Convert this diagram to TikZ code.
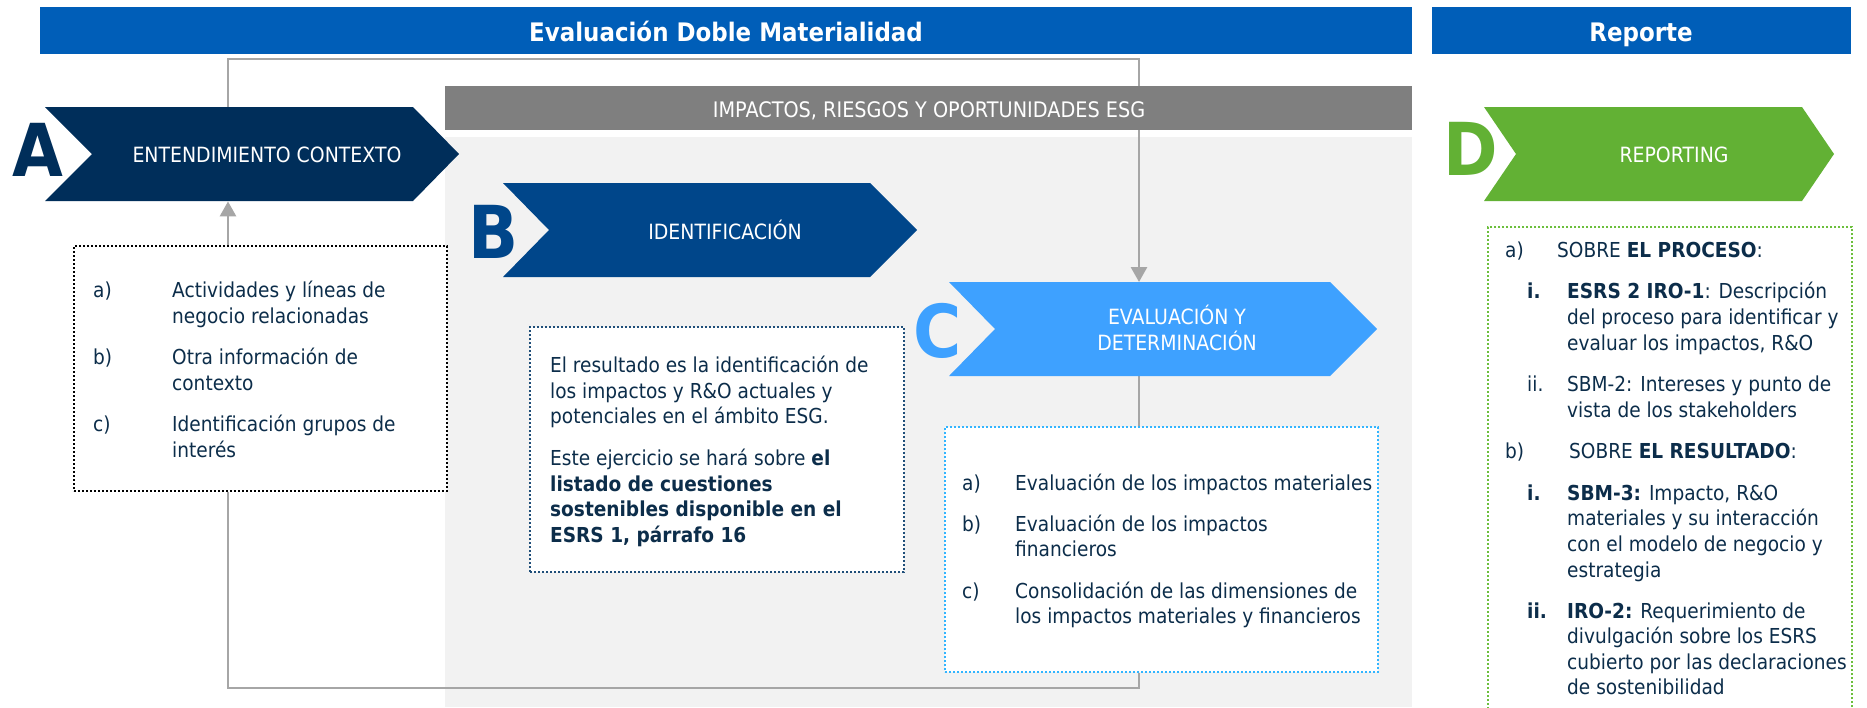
\documentclass[tikz,border=0pt]{standalone}
\usepackage{fontspec}
\setmainfont{DejaVu Sans}[FakeStretch=0.9]
\usetikzlibrary{arrows.meta,calc}
\definecolor{hdrblue}{HTML}{005EB8}
\definecolor{navyA}{HTML}{002E5A}
\definecolor{blueB}{HTML}{00468A}
\definecolor{blueC}{HTML}{3EA1FF}
\definecolor{greenD}{HTML}{62B134}
\definecolor{barGray}{HTML}{7F7F7F}
\definecolor{panelGray}{HTML}{F2F2F2}
\definecolor{loopGray}{HTML}{A6A6A6}
\definecolor{txtNavy}{HTML}{0C2D4A}
\definecolor{dotB}{HTML}{1F4E79}
\definecolor{dotC}{HTML}{33B5FF}
\definecolor{dotD}{HTML}{6CBF3C}
\newcommand\bl[4]{\node[body] (#1) at (#2,#3) {#4};}
\begin{document}
\begin{tikzpicture}[x=1pt,y=-1pt,
  body/.style={font=\fontsize{20.6}{26}\selectfont, text=txtNavy, inner sep=0pt, anchor=base west},
  chevtxt/.style={font=\fontsize{21}{26}\selectfont, text=white, inner sep=0pt, anchor=base},
  bigletter/.style={font=\fontsize{73}{73}\selectfont\bfseries, inner sep=0pt, anchor=center},
  hdrtxt/.style={font=\fontsize{25.5}{30}\selectfont\bfseries, text=white, inner sep=0pt, anchor=base},
  hdrbar/.style={fill=hdrblue, inner sep=0pt, anchor=north west, minimum height=47},
  dotbox/.style={line width=2.4pt, dash pattern=on 2.2pt off 1.8pt, fill=white, inner sep=0pt, anchor=north west},
  chevbox/.style={inner sep=0pt, anchor=north west, minimum height=94},
  loopline/.style={draw=loopGray, line width=2.8pt},
  arr/.style={-{Triangle[length=15pt,width=16pt]}}]
\clip (0,0) rectangle (1867,707);
\fill[white] (0,0) rectangle (1867,707);

% headers
\node[hdrbar, minimum width=1372] (hdr1) at (40,7) {};
\node[hdrtxt] (hdr1t) at (726,41) {Evaluación Doble Materialidad};
\node[hdrbar, minimum width=419] (hdr2) at (1432,7) {};
\node[hdrtxt] (hdr2t) at (1641,41.5) {Reporte};

% light panel
\fill[panelGray] (445,137) rectangle (1412,707);

% chevron bounding nodes
\node[chevbox, minimum width=414] (chA) at (45,107) {};
\node[chevbox, minimum width=414] (chB) at (503,183) {};
\node[chevbox, minimum width=428] (chC) at (949,282) {};
\node[chevbox, minimum width=350] (chD) at (1484,107) {};

% boxes
\node[dotbox, draw=black, minimum width=373, minimum height=245] (boxA) at (73,245) {};
\node[dotbox, draw=dotB, minimum width=374, minimum height=245] (boxB) at (529,326) {};
\node[dotbox, draw=dotC, minimum width=433, minimum height=245] (boxC) at (944,426) {};
\node[dotbox, draw=dotD, minimum width=364, minimum height=520] (boxD) at (1487,226) {};

% loop connectors
\coordinate (lx) at (228,0);
\coordinate (rx) at (1139,0);
\coordinate (ty) at (0,59);
\coordinate (by) at (0,688);
\draw[loopline, arr] (chA.north -| lx) -- (lx |- ty) -- (rx |- ty) -- (chC.north -| rx);
\draw[loopline] (boxA.south -| lx) -- (lx |- by) -- (rx |- by) -- (boxC.south -| rx);
\draw[loopline, arr] (boxA.north -| lx) -- (chA.south -| lx);
\draw[loopline] (chC.south -| rx) -- (boxC.north -| rx);

% gray bar
\node[fill=barGray, inner sep=0pt, anchor=north west, minimum width=967, minimum height=44] (bar) at (445,86) {};
\node[chevtxt, font=\fontsize{21.4}{26}\selectfont] (bart) at (929,117) {IMPACTOS, RIESGOS Y OPORTUNIDADES ESG};

% chevrons
\fill[navyA] (45,107) -- (413,107) -- (459,154) -- (413,201) -- (45,201) -- (92,154) -- cycle;
\fill[blueB] (503,183) -- (870,183) -- (917,230) -- (870,277) -- (503,277) -- (549,230) -- cycle;
\fill[blueC] (949,282) -- (1330,282) -- (1377,329) -- (1330,376) -- (949,376) -- (995,329) -- cycle;
\fill[greenD] (1484,107) -- (1802,107) -- (1834,154) -- (1802,201) -- (1484,201) -- (1516,154) -- cycle;

\node[chevtxt] (chAt) at (267,162.5) {ENTENDIMIENTO CONTEXTO};
\node[chevtxt] (chBt) at (725,239) {IDENTIFICACIÓN};
\node[chevtxt] (chCt1) at (1177,324) {EVALUACIÓN Y};
\node[chevtxt] (chCt2) at (1177,350) {DETERMINACIÓN};
\node[chevtxt] (chDt) at (1674,162) {REPORTING};

% big letters
\node[bigletter, text=navyA] (LA) at (37.5,149.5) {A};
\node[bigletter, text=blueB] (LB) at (493.5,231.5) {B};
\node[bigletter, text=blueC] (LC) at (938,330.5) {C};
\node[bigletter, text=greenD] (LD) at (1470.5,148.5) {D};

% box A text
\bl{Aa}{93}{297}{a)}
\bl{Aa1}{172}{297}{Actividades y líneas de}
\bl{Aa2}{172}{323}{negocio relacionadas}
\bl{Ab}{93}{364}{b)}
\bl{Ab1}{172}{364}{Otra información de}
\bl{Ab2}{172}{390}{contexto}
\bl{Ac}{93}{431}{c)}
\bl{Ac1}{172}{431}{Identificación grupos de}
\bl{Ac2}{172}{457}{interés}

% box B text
\bl{B1}{550}{372}{El resultado es la identificación de}
\bl{B2}{550}{398}{los impactos y R\&O actuales y}
\bl{B3}{550}{423}{potenciales en el ámbito ESG.}
\bl{B4}{550}{465}{Este ejercicio se hará sobre \textbf{el}}
\bl{B5}{550}{491}{\textbf{listado de cuestiones}}
\bl{B6}{550}{516}{\textbf{sostenibles disponible en el}}
\bl{B7}{550}{542}{\textbf{ESRS 1, párrafo 16}}

% box C text
\bl{Ca}{962}{490}{a)}
\bl{Ca1}{1015}{490}{Evaluación de los impactos materiales}
\bl{Cb}{962}{531}{b)}
\bl{Cb1}{1015}{531}{Evaluación de los impactos}
\bl{Cb2}{1015}{556}{financieros}
\bl{Cc}{962}{598}{c)}
\bl{Cc1}{1015}{598}{Consolidación de las dimensiones de}
\bl{Cc2}{1015}{623}{los impactos materiales y financieros}

% box D text
\bl{Da}{1505}{257}{a)}
\bl{Da0}{1557}{257}{SOBRE \textbf{EL PROCESO}:}
\bl{Dai}{1527}{298}{\textbf{i.}}
\bl{Dai1}{1567}{298}{\textbf{ESRS 2 IRO-1}: Descripción}
\bl{Dai2}{1567}{324}{del proceso para identificar y}
\bl{Dai3}{1567}{350}{evaluar los impactos, R\&O}
\bl{Daii}{1527}{391}{ii.}
\bl{Daii1}{1567}{391}{SBM-2: Intereses y punto de}
\bl{Daii2}{1567}{417}{vista de los stakeholders}
\bl{Db}{1505}{458}{b)}
\bl{Db0}{1569}{458}{SOBRE \textbf{EL RESULTADO}:}
\bl{Dbi}{1527}{500}{\textbf{i.}}
\bl{Dbi1}{1567}{500}{\textbf{SBM-3:} Impacto, R\&O}
\bl{Dbi2}{1567}{525}{materiales y su interacción}
\bl{Dbi3}{1567}{551}{con el modelo de negocio y}
\bl{Dbi4}{1567}{577}{estrategia}
\bl{Dbii}{1527}{618}{\textbf{ii.}}
\bl{Dbii1}{1567}{618}{\textbf{IRO-2:} Requerimiento de}
\bl{Dbii2}{1567}{643}{divulgación sobre los ESRS}
\bl{Dbii3}{1567}{669}{cubierto por las declaraciones}
\bl{Dbii4}{1567}{694}{de sostenibilidad}
\end{tikzpicture}
\end{document}
